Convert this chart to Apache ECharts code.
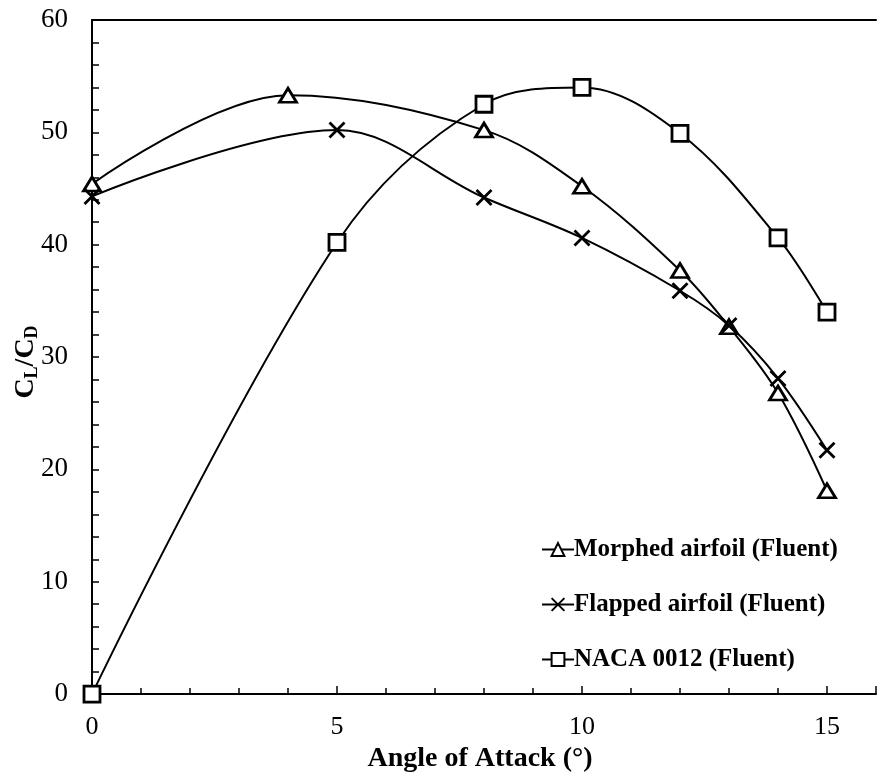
<!DOCTYPE html>
<html>
<head>
<meta charset="utf-8">
<style>
  html, body { margin: 0; padding: 0; background: #fff; }
  #chart { width: 879px; height: 778px; }
</style>
<script src="https://cdn.jsdelivr.net/npm/echarts@6/dist/echarts.min.js"></script>
</head>
<body>
<div id="chart"></div>
<script>
// Lift-to-drag ratio versus angle of attack for three airfoil configurations
const morphedAoA = [0, 4, 8, 10, 12, 13, 14, 15];
const morphedLD  = [45.4, 53.3, 50.2, 45.2, 37.7, 32.7, 26.8, 18.1];

const flappedAoA = [0, 5, 8, 10, 12, 13, 14, 15];
const flappedLD  = [44.3, 50.2, 44.2, 40.6, 35.9, 32.8, 28.1, 21.7];

const nacaAoA = [0, 5, 8, 10, 12, 14, 15];
const nacaLD  = [0, 40.2, 52.5, 54.0, 49.9, 40.6, 34.0];

const seriesNames = [
  'Morphed airfoil (Fluent)',
  'Flapped airfoil (Fluent)',
  'NACA 0012 (Fluent)'
];

const xTickLabels = [0, 5, 10, 15];
const yTickLabels = [0, 10, 20, 30, 40, 50, 60];

const FONT = '"Liberation Serif", "Times New Roman", serif';
const crossPath = 'path://M0,0L10,10M10,0L0,10';

function pairs(xs, ys) { return xs.map((x, i) => [x, ys[i]]); }

function makeSeries(name, xs, ys, symbol, size) {
  return {
    name: name,
    type: 'line',
    xAxisIndex: 0,
    yAxisIndex: 0,
    data: pairs(xs, ys),
    smooth: 0.35,
    symbol: symbol,
    symbolSize: size,
    showAllSymbol: true,
    lineStyle: { color: '#000', width: 2 },
    itemStyle: { color: '#fff', borderColor: '#000', borderWidth: 2.8 },
    emphasis: { disabled: true },
    z: 3
  };
}

const chart = echarts.init(document.getElementById('chart'), null, { renderer: 'canvas' });

chart.setOption({
  animation: false,
  backgroundColor: '#fff',
  grid: { left: 92, top: 20, right: -8, bottom: 76, containLabel: false },
  legend: {
    orient: 'vertical',
    left: 536,
    top: 532,
    itemWidth: 32,
    itemHeight: 16,
    itemGap: 30,
    selectedMode: false,
    data: seriesNames,
    textStyle: { fontFamily: FONT, fontSize: 25, fontWeight: 'bold', color: '#000', padding: [0, 0, 0, -5] }
  },
  xAxis: [
    {
      type: 'value', position: 'bottom', min: 0, max: 16, interval: 5,
      axisLine: { show: true, lineStyle: { color: '#000', width: 2 } },
      axisTick: { show: true, inside: true, length: 8, lineStyle: { color: '#000', width: 1.5 } },
      axisLabel: {
        margin: 20, fontFamily: FONT, fontSize: 26, color: '#000',
        formatter: v => (xTickLabels.indexOf(v) >= 0 ? String(v) : '')
      },
      splitLine: { show: false },
      name: 'Angle of Attack (°)', nameLocation: 'middle', nameGap: 37,
      nameTextStyle: { fontFamily: FONT, fontSize: 28, fontWeight: 'bold', color: '#000', padding: [0, 8, 0, 0] }
    },
    {
      type: 'value', position: 'bottom', min: 0, max: 16, interval: 1,
      axisLine: { show: false },
      axisTick: { show: true, inside: true, length: 6, lineStyle: { color: '#000', width: 1.5 } },
      axisLabel: { show: false },
      splitLine: { show: false }
    },
    {
      type: 'value', position: 'top', min: 0, max: 16, interval: 16,
      axisLine: { show: true, lineStyle: { color: '#000', width: 2 } },
      axisTick: { show: false },
      axisLabel: { show: false },
      splitLine: { show: false }
    }
  ],
  yAxis: {
    type: 'value', min: 0, max: 60, interval: 10,
    axisLine: { show: true, lineStyle: { color: '#000', width: 2 } },
    axisTick: { show: true, inside: true, length: 7, lineStyle: { color: '#000', width: 1.5 } },
    minorTick: { show: true, splitNumber: 5, length: 7, lineStyle: { color: '#000', width: 1.5 } },
    axisLabel: {
      margin: 24, fontFamily: FONT, fontSize: 27, color: '#000',
      formatter: v => (yTickLabels.indexOf(v) >= 0 ? String(v) : '')
    },
    splitLine: { show: false }
  },
  graphic: [
    {
      type: 'text',
      x: 26, y: 362,
      rotation: Math.PI / 2,
      style: {
        text: '{m|C}{s|L}{m|/C}{s|D}',
        align: 'center',
        verticalAlign: 'middle',
        fill: '#000',
        rich: {
          m: { fontFamily: FONT, fontSize: 28, fontWeight: 'bold', lineHeight: 30, fill: '#000' },
          s: { fontFamily: FONT, fontSize: 18, fontWeight: 'bold', lineHeight: 12, verticalAlign: 'bottom', fill: '#000' }
        }
      }
    }
  ],
  series: [
    makeSeries(seriesNames[0], morphedAoA, morphedLD, 'triangle', [17, 14]),
    makeSeries(seriesNames[1], flappedAoA, flappedLD, crossPath, 15),
    makeSeries(seriesNames[2], nacaAoA, nacaLD, 'rect', 16)
  ]
});
</script>
</body>
</html>
